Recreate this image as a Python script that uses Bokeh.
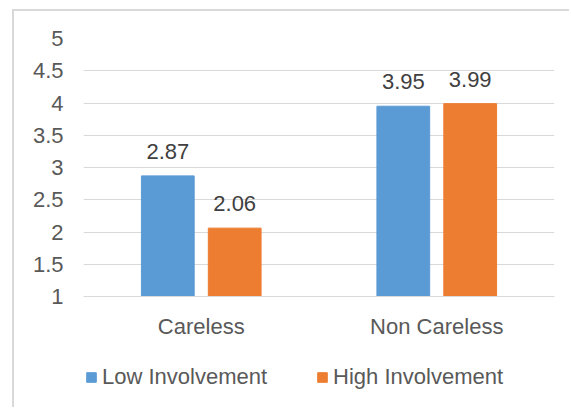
from bokeh.plotting import figure
from bokeh.models import ColumnDataSource, Legend, LegendItem, FixedTicker, Range1d
from bokeh.layouts import column
from bokeh.transform import dodge
from bokeh.core.properties import value
from bokeh.embed import file_html
from bokeh.resources import INLINE

categories = ["Careless", "Non Careless"]
low_involvement = [2.87, 3.95]
high_involvement = [2.06, 3.99]
series_names = ["Low Involvement", "High Involvement"]
series_colors = ["#5B9BD5", "#ED7D31"]
y_ticks = [1, 1.5, 2, 2.5, 3, 3.5, 4, 4.5, 5]
y_tick_labels = ["1", "1.5", "2", "2.5", "3", "3.5", "4", "4.5", "5"]

FONT = "Liberation Sans"
FS = "22px"

src = ColumnDataSource(dict(
    cat=categories,
    low=low_involvement,
    high=high_involvement,
    low_lbl=["%.2f" % v for v in low_involvement],
    high_lbl=["%.2f" % v for v in high_involvement],
))

p = figure(x_range=categories, y_range=(1, 5), width=555, height=340,
           output_backend="svg", toolbar_location=None,
           min_border_left=69, min_border_right=15, min_border_top=27,
           min_border_bottom=55)
p.outline_line_color = None

offset = 0.142
width = 0.224
r_low = p.vbar(x=dodge("cat", -offset, range=p.x_range), top="low", bottom=1,
               width=width, source=src, color=series_colors[0])
r_high = p.vbar(x=dodge("cat", offset, range=p.x_range), top="high", bottom=1,
                width=width, source=src, color=series_colors[1])

for col, lbl, off in (("low", "low_lbl", -offset), ("high", "high_lbl", offset)):
    p.text(x=dodge("cat", off, range=p.x_range), y=col, text=lbl, source=src,
           text_align="center", text_baseline="bottom", y_offset=-17,
           text_font=value(FONT), text_font_size=FS, text_color="#404040")

p.yaxis.ticker = FixedTicker(ticks=y_ticks)
p.yaxis.major_label_overrides = {t: l for t, l in zip(y_ticks, y_tick_labels)}
p.yaxis.axis_line_color = None
p.yaxis.major_tick_line_color = None
p.yaxis.minor_tick_line_color = None
p.yaxis.major_label_standoff = 14
for ax in (p.xaxis, p.yaxis):
    ax.major_label_text_font = FONT
    ax.major_label_text_font_size = FS
    ax.major_label_text_color = "#595959"
p.xaxis.axis_line_color = "#d9d9d9"
p.xaxis.major_tick_line_color = None
p.xaxis.minor_tick_line_color = None
p.xaxis.major_label_standoff = 11

p.xgrid.grid_line_color = None
p.ygrid.grid_line_color = "#d9d9d9"
p.ygrid.grid_line_width = 1

# legend strip below the chart (same series, drawn out of view; only the legend shows)
lg = figure(width=555, height=56, x_range=categories, y_range=Range1d(10, 11),
            x_axis_type=None, y_axis_type=None, output_backend="svg",
            toolbar_location=None, min_border=0)
lg.outline_line_color = None
lg.grid.visible = False
lr_low = lg.vbar(x=dodge("cat", -offset, range=lg.x_range), top="low", bottom=1,
                 width=width, source=src, color=series_colors[0])
lr_high = lg.vbar(x=dodge("cat", offset, range=lg.x_range), top="high", bottom=1,
                  width=width, source=src, color=series_colors[1])
legend = Legend(items=[LegendItem(label=series_names[0], renderers=[lr_low], index=0),
                       LegendItem(label=series_names[1], renderers=[lr_high], index=0)],
                orientation="horizontal", location=(2, 17),
                glyph_width=12, glyph_height=12, label_standoff=5, spacing=49,
                padding=0, margin=0, border_line_alpha=0, background_fill_alpha=0,
                label_text_font=FONT, label_text_font_size=FS,
                label_text_color="#595959")
lg.add_layout(legend, "center")

layout = column(p, lg, spacing=0)
layout.margin = (9, 0, 0, 12)
layout.styles = {"border-left": "2px solid #d9d9d9", "border-top": "2px solid #d9d9d9"}

open("out.html", "w").write(file_html(layout, INLINE))
